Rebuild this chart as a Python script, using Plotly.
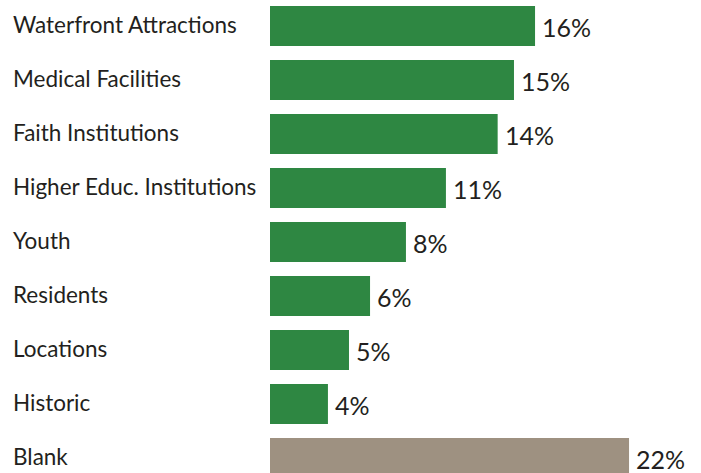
import plotly.graph_objects as go

categories = ["Waterfront Attractions", "Medical Facilities", "Faith Institutions",
              "Higher Educ. Institutions", "Youth", "Residents", "Locations",
              "Historic", "Blank"]
values = [16.24, 14.95, 13.95, 10.78, 8.33, 6.13, 4.84, 3.55, 22.0]
value_labels = ["16%", "15%", "14%", "11%", "8%", "6%", "5%", "4%", "22%"]
bar_colors = ["#2E8742"] * 8 + ["#9E9181"]

W, H = 701, 473
left = 270
px_per_unit = 16.32
pitch = 54.0
first_center = 26.0

fig = go.Figure()
fig.add_trace(go.Bar(
    y=categories, x=values, orientation="h",
    marker=dict(color=bar_colors, line=dict(width=0)),
    hoverinfo="skip",
))

font_family = "Lato, 'Open Sans', sans-serif"
text_color = "#231F20"

annotations = []
for cat, val, lab in zip(categories, values, value_labels):
    annotations.append(dict(
        x=val, y=cat, xref="x", yref="y", text=lab, showarrow=False,
        xanchor="left", yanchor="middle", xshift=5, yshift=-1,
        font=dict(family=font_family, size=25, color=text_color),
    ))
    annotations.append(dict(
        x=-(left - 11) / (W - left), y=cat, xref="paper", yref="y", text=cat,
        showarrow=False, xanchor="left", yanchor="middle", yshift=2,
        font=dict(family=font_family, size=22.5, color=text_color),
    ))

top_val = -first_center / pitch
bottom_val = (H - first_center) / pitch

fig.update_layout(
    width=W, height=H,
    margin=dict(l=left, r=0, t=0, b=0),
    paper_bgcolor="white", plot_bgcolor="white",
    bargap=14 / 54,
    showlegend=False,
    xaxis=dict(range=[0, (W - left) / px_per_unit], visible=False, fixedrange=True),
    yaxis=dict(range=[bottom_val, top_val], visible=False, fixedrange=True,
               categoryorder="array", categoryarray=categories),
    annotations=annotations,
)

fig.write_html("out.html", config={"displayModeBar": False},
               post_script="document.body.style.margin='0';document.body.style.overflow='hidden';")
